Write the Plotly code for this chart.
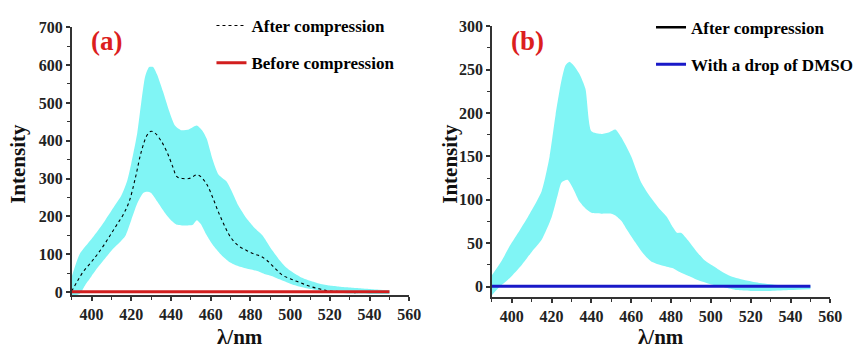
import plotly.graph_objects as go

# ---- Panel (a): after compression, band = mean +/- spread ----
wl_a_upper = [390, 394, 400, 405, 410, 415, 418, 420, 423, 425, 427, 429, 431, 433, 436, 439,
              442, 445, 449, 453, 456, 458, 461, 464, 468, 471, 474, 478, 482, 486, 490, 494,
              498, 502, 506, 510, 515, 520, 525, 530, 535, 540, 545, 550]
upper_a = [40, 100, 140, 175, 215, 255, 295, 340, 420, 500, 570, 595, 595, 575, 530, 480,
           440, 428, 430, 440, 425, 405, 350, 310, 292, 262, 228, 195, 170, 150, 118, 89,
           65, 50, 38, 30, 22, 17, 14, 12, 10, 8, 6, 5]

wl_a_lower = [390, 394, 397, 400, 403, 407, 411, 414, 417, 420, 423, 426, 428, 430, 433, 437,
              440, 443, 447, 451, 453, 455, 458, 461, 465, 469, 473, 478, 483, 487, 491, 495,
              500, 505, 510, 515, 520, 530, 540, 550]
lower_a = [-8, -5, 20, 42, 64, 90, 115, 130, 148, 190, 234, 262, 265, 262, 240, 209,
           190, 178, 176, 178, 190, 180, 150, 125, 100, 81, 70, 62, 56, 48, 42, 33,
           22, 14, 8, 4, 0, -4, -5, -5]

wl_a_mean = [390, 393, 396, 400, 403, 407, 410, 413, 416, 419, 422, 425, 428, 430, 432, 435,
             438, 441, 443, 446, 449, 451, 453, 455, 458, 461, 464, 467, 470, 474, 478, 482,
             485, 488, 492, 496, 500, 505, 510, 515, 519, 523, 530, 533]
mean_a = [2, 30, 55, 80, 100, 130, 155, 180, 205, 240, 300, 370, 415, 425, 420, 400,
          370, 330, 305, 300, 300, 305, 310, 305, 285, 250, 210, 175, 145, 122, 110, 100,
          95, 85, 65, 45, 35, 25, 15, 8, 3, 2, 0, -2]

wl_flat = [390, 550]
before_a = [1, 1]

# ---- Panel (b): after compression band and the DMSO trace ----
wl_b_upper = [390, 395, 399, 404, 409, 415, 419, 422, 425, 427, 429, 431, 434, 437, 440, 445,
              449, 452, 455, 460, 465, 470, 474, 478, 481, 483, 485, 489, 493, 497, 501, 505,
              510, 518, 525, 538, 550]
upper_b = [13, 30, 47, 65, 84, 110, 150, 198, 238, 255, 259, 255, 245, 228, 179, 176,
           178, 181, 172, 150, 120, 102, 90, 80, 68, 62, 62, 52, 40, 30, 24, 18,
           12, 7, 4, 1, 1]

wl_b_lower = [390, 394, 399, 405, 410, 415, 420, 423, 425, 428, 431, 434, 437, 440, 445, 450,
              452, 455, 458, 462, 466, 470, 476, 481, 484, 488, 494, 501, 507, 513, 520, 530,
              540, 550]
lower_b = [-10, 0, 10, 25, 40, 54, 80, 105, 120, 123, 112, 98, 90, 85, 84, 84,
           82, 76, 65, 51, 38, 29, 24, 21, 17, 13, 7, 2, -1, -4, -5, -5,
           -4, -3]

dmso_b = [0.5, 0.5]

CYAN = "rgb(128,245,245)"
SERIF = "Liberation Serif"

fig = go.Figure()


def band(xl, yl, xu, yu, xa, ya):
    """Filled envelope between a lower and an upper edge."""
    fig.add_trace(go.Scatter(x=xl, y=yl, mode="lines",
                             line=dict(width=0, color=CYAN, shape="spline", smoothing=0.6),
                             showlegend=False, hoverinfo="skip", xaxis=xa, yaxis=ya))
    fig.add_trace(go.Scatter(x=xu, y=yu, mode="lines",
                             line=dict(width=0, color=CYAN, shape="spline", smoothing=0.6),
                             fill="tonexty", fillcolor=CYAN, showlegend=False, hoverinfo="skip",
                             xaxis=xa, yaxis=ya))


# (a)
band(wl_a_lower, lower_a, wl_a_upper, upper_a, "x", "y")
fig.add_trace(go.Scatter(x=wl_a_mean, y=mean_a, mode="lines", name="After compression",
                         line=dict(color="black", width=1.1, dash="dot", shape="spline"),
                         legend="legend", legendgroup="a1", xaxis="x", yaxis="y"))
fig.add_trace(go.Scatter(x=wl_flat, y=before_a, mode="lines", name="Before compression",
                         line=dict(color="rgb(210,30,30)", width=3),
                         legend="legend", legendgroup="a2", xaxis="x", yaxis="y"))

# (b)
band(wl_b_lower, lower_b, wl_b_upper, upper_b, "x2", "y2")
fig.add_trace(go.Scatter(x=[None], y=[None], mode="lines", name="After compression",
                         line=dict(color="black", width=2.5),
                         legend="legend2", legendgroup="b1", xaxis="x2", yaxis="y2"))
fig.add_trace(go.Scatter(x=wl_flat, y=dmso_b, mode="lines", name="With a drop of DMSO",
                         line=dict(color="rgb(25,25,200)", width=3),
                         legend="legend2", legendgroup="b2", xaxis="x2", yaxis="y2"))

tickfont = dict(family=SERIF, size=16, color="#222", weight="bold")
titlefont = dict(family=SERIF, size=21, color="#111", weight="bold")


def xaxis_style(domain, anchor):
    return dict(domain=domain, anchor=anchor, range=[390, 560], tickvals=list(range(400, 561, 20)),
                ticks="outside", ticklen=4, tickwidth=1.5, tickcolor="#333",
                minor=dict(ticks="outside", ticklen=3, tickwidth=1.2, tickcolor="#333", dtick=10),
                showline=True, linecolor="#333", linewidth=1.5, showgrid=False, zeroline=False,
                tickfont=tickfont)


def yaxis_style(domain, anchor, rng, dtick, minor):
    return dict(domain=domain, anchor=anchor, range=rng, dtick=dtick, tick0=0,
                ticks="outside", ticklen=4, tickwidth=1.5, tickcolor="#333",
                minor=dict(ticks="outside", ticklen=3, tickwidth=1.2, tickcolor="#333", dtick=minor,
                           tick0=0),
                showline=True, linecolor="#333", linewidth=1.5, showgrid=False, zeroline=False,
                tickfont=tickfont)


legend_font = dict(family=SERIF, size=17, color="black", weight="bold")
label_font = dict(family=SERIF, size=27, color="rgb(220,30,30)", weight="bold")


def text(s, x, y, font, angle=0):
    return dict(text=s, xref="paper", yref="paper", x=x, y=y, xanchor="center",
                yanchor="middle", showarrow=False, textangle=angle, font=font)


fig.update_layout(
    width=863, height=355, margin=dict(l=0, r=0, t=0, b=0),
    paper_bgcolor="white", plot_bgcolor="white",
    xaxis=xaxis_style([0.0842, 0.481], "y"),
    yaxis=yaxis_style([0.1606, 0.9437], "x", [-8, 700], 100, 50),
    xaxis2=xaxis_style([0.578, 0.9757], "y2"),
    yaxis2=yaxis_style([0.155, 0.9465], "x2", [-12, 300], 50, 25),
    legend=dict(x=0.2485, y=1.0, xanchor="left", yanchor="top", bgcolor="rgba(0,0,0,0)",
                font=legend_font, tracegroupgap=12, itemwidth=30),
    legend2=dict(x=0.765, y=0.995, xanchor="left", yanchor="top", bgcolor="rgba(0,0,0,0)",
                 font=legend_font, tracegroupgap=12, itemwidth=30),
    annotations=[
        text("(a)", 0.125, 0.903, label_font),
        text("(b)", 0.62, 0.903, label_font),
        text("Intensity", 18 / 863, 1 - 162 / 355, titlefont, -90),
        text("Intensity", 456 / 863, 1 - 162 / 355, titlefont, -90),
        text("λ/nm", 243 / 863, 1 - 342 / 355, titlefont),
        text("λ/nm", 670 / 863, 1 - 342 / 355, titlefont),
    ],
)

fig.write_html("out.html")
